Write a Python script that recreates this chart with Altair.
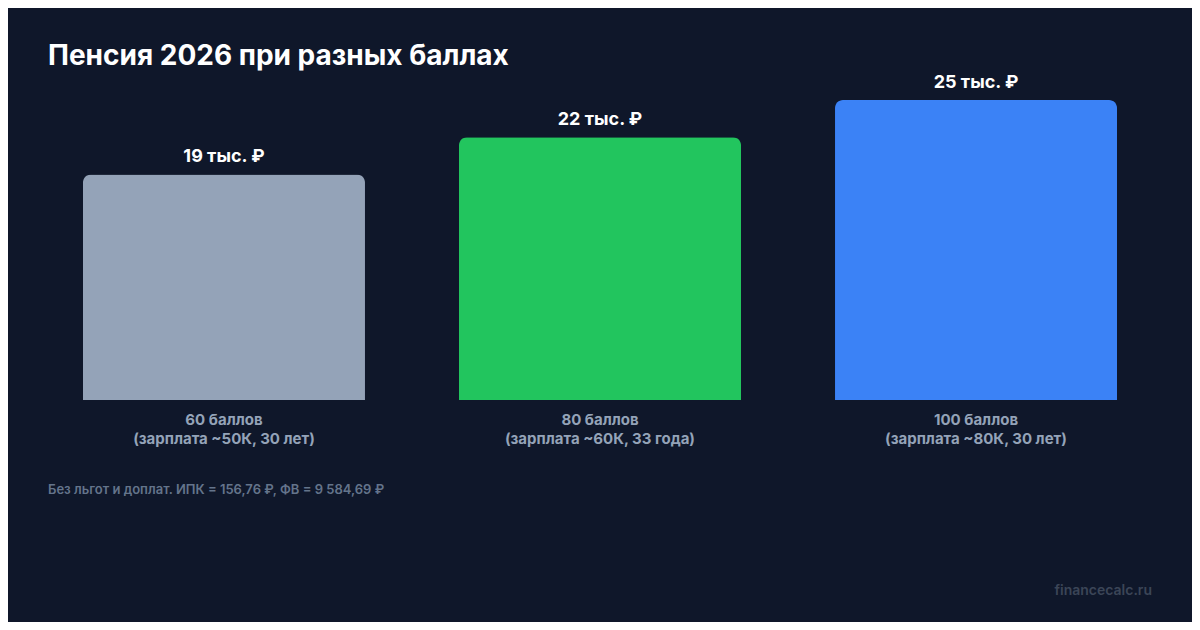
import altair as alt
import pandas as pd

categories = ["60 баллов", "80 баллов", "100 баллов"]
details = ["(зарплата ~50К, 30 лет)", "(зарплата ~60К, 33 года)", "(зарплата ~80К, 30 лет)"]
pension = [18990, 22125, 25261]
value_labels = ["19 тыс. ₽", "22 тыс. ₽", "25 тыс. ₽"]
colors = ["#94a3b8", "#22c55e", "#3b82f6"]

footnote = "Без льгот и доплат. ИПК = 156,76 ₽, ФВ = 9 584,69 ₽"
watermark = "financecalc.ru"

BG = "#0f172a"

df = pd.DataFrame({
    "cat": [c + "|" + d for c, d in zip(categories, details)],
    "pension": pension,
    "label": value_labels,
})

x = alt.X("cat:N", sort=None, title=None,
          scale=alt.Scale(paddingInner=0.25, paddingOuter=0.093),
          axis=alt.Axis(labelExpr="split(datum.label, '|')", labelAngle=0,
                        domain=False, ticks=False, labelPadding=12.5,
                        labelFontSize=15, labelFontWeight="bold",
                        labelColor="#94a3b8", labelLineHeight=19,
                        labelLimit=400, labelFont="Inter"))
y = alt.Y("pension:Q", title=None,
          scale=alt.Scale(domain=[0, 25261], nice=False, zero=True),
          axis=None)

base = alt.Chart(df)
bars = base.mark_bar(cornerRadiusTopLeft=8, cornerRadiusTopRight=8).encode(
    x=x, y=y,
    color=alt.Color("cat:N", sort=None, legend=None,
                    scale=alt.Scale(range=colors)),
)
texts = base.mark_text(baseline="alphabetic", dy=-12, fontSize=18,
                       fontWeight="bold", color="#ffffff", font="Inter").encode(
    x=x, y=y, text="label:N"
)

notes = alt.Chart(pd.DataFrame({"t": [footnote]})).mark_text(
    align="left", baseline="alphabetic", fontSize=13, fontWeight=600,
    color="#64748b", font="Inter"
).encode(x=alt.value(0), y=alt.value(394), text="t:N")

wm = alt.Chart(pd.DataFrame({"t": [watermark]})).mark_text(
    align="right", baseline="alphabetic", fontSize=14, fontWeight=600,
    color="#3b4557", font="Inter"
).encode(x=alt.value(1104), y=alt.value(495), text="t:N")

chart = alt.layer(bars, texts, notes, wm).properties(
    width=1104, height=300,
    padding={"left": 40, "top": 92, "right": 40, "bottom": 222},
    autosize="none",
    background=BG,
    title=alt.Title("Пенсия 2026 при разных баллах", anchor="start",
                    fontSize=28, fontWeight="bold", color="#ffffff",
                    font="Inter", baseline="alphabetic", offset=8, dy=27),
).configure_view(stroke=None)

chart.save("out.html", embed_options={"renderer": "svg", "actions": False})
